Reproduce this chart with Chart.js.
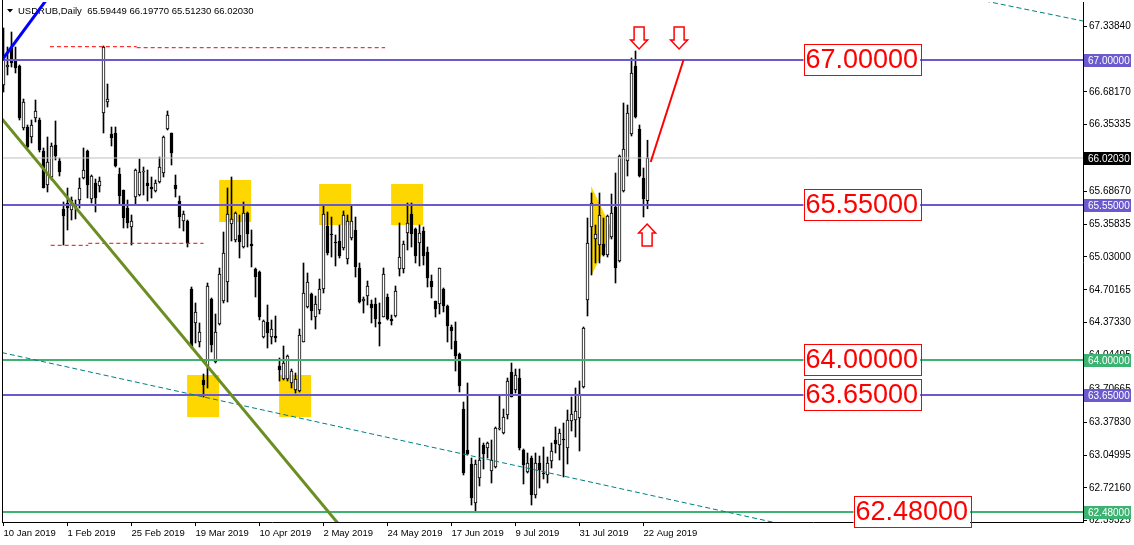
<!DOCTYPE html>
<html>
<head>
<meta charset="utf-8">
<script src="https://cdn.jsdelivr.net/npm/chart.js@4.4.1/dist/chart.umd.min.js"></script>
<style>
  html, body { margin: 0; padding: 0; background: #fff; }
  #wrap { width: 1134px; height: 545px; }
</style>
</head>
<body>
<div id="wrap"><canvas id="chart" width="1134" height="545"></canvas></div>
<script>
// daily bars, USDRUB, 10 Jan 2019 .. 23 Aug 2019 (one bar per weekday)
const open = [66.75,66.93,67.12,66.99,66.94,66.32,66.33,66.23,66.42,66.40,66.09,65.75,65.83,66.15,65.99,65.51,65.57,65.50,65.53,65.60,65.82,66.09,65.61,65.77,65.74,66.47,66.58,66.26,66.27,65.86,65.70,65.52,
  65.33,65.63,65.65,65.88,65.77,65.73,65.69,65.78,65.87,66.31,66.27,65.75,65.59,65.39,65.39,64.71,64.37,64.18,63.80,63.94,64.61,63.98,64.36,64.59,64.78,65.36,65.20,65.25,65.13,65.47,65.16,64.91,
  64.88,64.23,64.38,64.23,64.24,63.94,63.81,63.81,63.77,63.70,63.69,64.18,64.53,64.66,64.43,64.50,64.71,65.34,65.26,65.18,65.19,65.12,65.01,65.22,65.30,64.92,64.59,64.64,64.56,64.56,64.38,64.43,
  64.63,64.41,64.44,64.91,64.91,65.27,65.46,65.31,65.17,65.29,65.08,64.79,64.59,64.56,64.71,64.54,64.33,64.19,64.06,63.51,63.10,62.96,62.57,62.82,63.15,63.12,62.89,62.93,63.31,63.27,63.45,63.88,
  63.70,63.82,63.10,62.88,63.02,62.65,62.97,62.87,62.85,62.99,63.20,63.15,63.21,63.12,63.39,63.40,63.42,63.73,64.60,65.33,65.21,65.15,65.16,65.05,65.23,65.53,64.99,65.69,65.99,66.26,66.94,66.31,
  65.82,65.59449];
const high = [67.32,67.13,67.28,67.13,66.95,66.61,66.35,66.40,66.60,66.42,66.12,66.23,66.17,66.39,66.02,65.58,65.72,65.63,65.60,65.82,66.12,66.10,65.85,65.81,65.83,67.14,66.76,66.33,66.33,65.92,65.70,65.60,
  65.45,65.91,66.01,65.93,65.90,65.83,65.80,66.03,66.24,66.49,66.27,65.85,65.64,65.49,65.40,64.73,64.57,64.37,63.86,64.77,64.62,64.46,64.92,65.28,65.72,65.83,65.48,65.45,65.58,65.48,65.30,64.92,
  64.89,64.40,64.55,64.40,64.44,64.02,64.14,64.05,63.91,63.87,64.31,64.97,64.87,64.67,64.64,64.81,65.55,65.48,65.43,65.25,65.35,65.49,65.45,65.55,65.43,64.97,64.63,64.79,64.60,64.62,64.57,64.92,
  64.66,64.45,64.74,65.37,65.19,65.57,65.57,65.32,65.35,65.33,65.13,64.85,64.59,64.92,64.72,64.55,64.35,64.38,64.07,63.58,63.77,63.02,63.00,63.22,63.17,63.18,63.20,63.33,63.65,63.51,63.82,63.97,
  63.91,63.91,63.11,63.07,63.04,63.07,63.04,63.13,63.03,63.17,63.33,63.31,63.37,63.50,63.63,63.72,63.79,64.33,65.42,65.67,65.35,65.67,65.42,65.45,65.66,65.87,66.05,66.57,66.55,67.02,67.09,66.35,
  65.92,66.1977];
const low = [66.68,66.85,66.93,66.87,66.40,66.30,66.12,66.17,66.38,66.08,65.72,65.68,65.80,66.00,65.84,65.15,65.30,65.40,65.41,65.52,65.81,65.62,65.57,65.48,65.68,66.27,66.53,66.14,65.93,65.55,65.32,65.32,
  65.15,65.55,65.64,65.65,65.59,65.62,65.68,65.77,65.83,66.30,65.95,65.63,65.32,65.29,65.13,64.12,64.17,64.13,63.63,63.72,64.08,63.97,64.35,64.57,64.58,65.19,65.18,65.02,65.12,65.13,64.93,64.63,
  64.40,64.22,64.12,64.16,64.18,63.79,63.80,63.79,63.72,63.67,63.68,64.18,64.52,64.40,64.31,64.46,64.67,65.05,65.03,64.94,65.02,65.10,64.96,65.20,64.83,64.57,64.47,64.55,64.37,64.33,64.14,64.43,
  64.40,64.35,64.43,64.84,64.87,65.10,65.13,64.97,64.94,64.95,64.73,64.62,64.43,64.46,64.48,64.18,64.11,63.89,63.68,62.85,63.05,62.55,62.48,62.74,62.91,63.02,62.77,62.92,63.30,63.26,63.41,63.63,
  63.67,63.10,62.76,62.87,62.55,62.62,62.72,62.81,62.77,62.92,63.07,63.00,62.83,62.96,63.29,63.23,63.09,63.72,64.44,64.85,64.97,64.97,65.04,65.03,65.21,64.77,64.98,65.68,65.84,66.24,66.42,65.83,
  65.43,65.5123];
const close = [67.00,66.95,66.97,66.92,66.42,66.58,66.13,66.35,66.49,66.10,65.72,65.98,66.14,66.04,65.88,65.44,65.52,65.60,65.55,65.72,65.90,65.75,65.84,65.62,65.79,67.13,66.61,66.22,65.94,65.64,65.42,65.37,
  65.39,65.90,65.88,65.89,65.74,65.71,65.77,65.93,66.23,66.45,66.07,65.71,65.43,65.46,65.17,64.13,64.48,64.28,63.75,64.74,64.15,64.28,64.86,65.07,65.46,65.41,65.47,65.18,65.47,65.26,65.14,64.83,
  64.43,64.39,64.27,64.31,64.22,63.90,63.97,64.04,63.89,63.81,64.25,64.67,64.78,64.49,64.56,64.71,65.46,65.07,65.25,65.17,65.04,65.45,65.39,65.39,64.93,64.58,64.61,64.74,64.52,64.41,64.36,64.86,
  64.41,64.39,64.69,65.03,65.16,65.37,65.26,65.04,65.27,65.04,64.82,64.73,64.51,64.92,64.54,64.34,64.29,64.04,63.74,62.87,63.06,62.62,62.96,63.00,63.06,63.17,63.00,63.32,63.32,63.43,63.79,63.63,
  63.85,63.12,62.95,62.97,62.65,62.97,62.90,62.86,62.97,63.09,63.16,63.27,63.20,63.40,63.46,63.49,63.66,64.32,65.17,65.57,65.26,65.45,65.05,65.44,65.47,64.92,66.04,66.11,66.47,66.87,66.43,65.84,
  65.61,66.0203];

const dateLabels = ['10 Jan 2019','1 Feb 2019','25 Feb 2019','19 Mar 2019','10 Apr 2019','2 May 2019',
  '24 May 2019','17 Jun 2019','9 Jul 2019','31 Jul 2019','22 Aug 2019'];
const dateTickEvery = 16;
const priceTicks = [67.3384, 66.6817, 66.35335, 65.6867, 65.35835, 65.03, 64.70165, 64.3733,
  64.04495, 63.70665, 63.3783, 63.04995, 62.7216, 62.39325];

// horizontal levels
const levelPrices = [67.0, 65.55, 64.0, 63.65, 62.48];
const levelKinds = ['purple', 'purple', 'green', 'purple', 'green'];
// big red captions: [text, bar index of left edge, price]
const captions = [['67.00000', 200, 67.0], ['65.55000', 200, 65.55], ['64.00000', 200, 64.0],
  ['63.65000', 200, 63.65], ['62.48000', 212.5, 62.48]];

// drawing objects in (bar index, price)
const yellowBoxes = [[53.9, 61.9, 65.80, 65.38], [78.9, 86.9, 65.76, 65.35], [96.9, 104.9, 65.76, 65.35],
  [45.9, 53.9, 63.85, 63.43], [68.9, 76.9, 63.85, 63.43]];
const yellowTriangle = [[146.9, 65.74], [146.9, 64.84], [152.4, 65.28]];
const redRays = [[11.6, 33.3, 67.133], [33.3, 95.4, 67.123], [11.8, 21.2, 65.147], [21.2, 50.0, 65.167]];
const oliveTrend = [[-0.375, 66.41], [87.5, 62.18]];
const blueTrend = [[-0.375, 67.0], [10.7, 67.6]];
const tealLow = [[-0.375, 64.074], [224.1, 62.099]];
const tealHigh = [[245.4, 67.59], [269.875, 67.39]];
const targetLine = [[161.8, 65.98], [170, 67.0]];
const downArrows = [[158.9, 67.33], [168.9, 67.33]];
const upArrows = [[160.9, 65.36]];

const X_MIN = -0.375, X_MAX = 269.875;
const PURPLE = '#6a5acd', GREEN = '#3cb371';
const colorOf = k => k === 'green' ? GREEN : PURPLE;

const idx = open.map((_, i) => i);
const pts = arr => arr.map(p => ({x: p[0], y: p[1]}));
const lineDs = (data, color, width, dash, order) => ({
  type: 'line', data, borderColor: color, borderWidth: width, borderDash: dash || [],
  pointRadius: 0, fill: false, tension: 0, order: order
});

const datasets = [
  {
    type: 'bar', data: idx.map(i => ({x: i, y: [low[i], high[i]]})),
    backgroundColor: '#000', borderWidth: 0, barThickness: 1, grouped: false, order: 5
  },
  {
    type: 'bar', data: idx.map(i => ({x: i, y: [open[i], close[i]]})),
    backgroundColor: idx.map(i => close[i] >= open[i] ? '#fff' : '#000'),
    borderColor: '#000', borderWidth: 1, borderSkipped: false, barThickness: 3,
    minBarLength: 1, grouped: false, order: 4
  },
  lineDs([{x: X_MIN, y: close[close.length - 1]}, {x: X_MAX, y: close[close.length - 1]}], '#c0c0c0', 1, null, 3)
];
levelPrices.forEach((p, i) => datasets.push(lineDs([{x: X_MIN, y: p}, {x: X_MAX, y: p}], colorOf(levelKinds[i]), 2, null, 2)));
redRays.forEach(r => datasets.push(lineDs([{x: r[0], y: r[2]}, {x: r[1], y: r[2]}], '#ff0000', 1, [4, 3], 2)));
datasets.push(lineDs(pts(oliveTrend), '#6b8e23', 3, null, 1));
datasets.push(lineDs(pts(blueTrend), '#0000ff', 3, null, 1));
datasets.push(lineDs(pts(tealLow), '#008080', 1, [5, 3], 1));
datasets.push(lineDs(pts(tealHigh), '#008080', 1, [5, 3], 1));
datasets.push(lineDs(pts(targetLine), '#ff0000', 2, null, 1));

const FONT = "'Liberation Sans', Arial, sans-serif";

function arrowPath(ctx, cx, top, down) {
  const sw = 5, hw = 8.5, sh = 13, h = 22;
  ctx.beginPath();
  if (down) {
    ctx.moveTo(cx - sw, top); ctx.lineTo(cx + sw, top); ctx.lineTo(cx + sw, top + sh);
    ctx.lineTo(cx + hw, top + sh); ctx.lineTo(cx, top + h); ctx.lineTo(cx - hw, top + sh);
    ctx.lineTo(cx - sw, top + sh);
  } else {
    ctx.moveTo(cx, top); ctx.lineTo(cx + hw, top + h - sh); ctx.lineTo(cx + sw, top + h - sh);
    ctx.lineTo(cx + sw, top + h); ctx.lineTo(cx - sw, top + h); ctx.lineTo(cx - sw, top + h - sh);
    ctx.lineTo(cx - hw, top + h - sh);
  }
  ctx.closePath();
  ctx.fillStyle = '#fff';
  ctx.fill();
  ctx.strokeStyle = '#ff0000';
  ctx.lineWidth = 1.5;
  ctx.stroke();
}

const overlay = {
  id: 'overlay',
  beforeDatasetsDraw(chart) {
    const {ctx, chartArea: a, scales: {x, y}} = chart;
    ctx.save();
    ctx.beginPath();
    ctx.rect(a.left, a.top, a.right - a.left, a.bottom - a.top);
    ctx.clip();
    ctx.fillStyle = '#ffd700';
    yellowBoxes.forEach(b => {
      const x0 = x.getPixelForValue(b[0]), x1 = x.getPixelForValue(b[1]);
      const y0 = y.getPixelForValue(b[2]), y1 = y.getPixelForValue(b[3]);
      ctx.fillRect(x0, y0, x1 - x0, y1 - y0);
    });
    ctx.beginPath();
    yellowTriangle.forEach((p, i) => {
      const px = x.getPixelForValue(p[0]), py = y.getPixelForValue(p[1]);
      if (i === 0) ctx.moveTo(px, py); else ctx.lineTo(px, py);
    });
    ctx.closePath();
    ctx.fill();
    // symbol caption
    ctx.fillStyle = '#000';
    ctx.beginPath();
    ctx.moveTo(7, 9); ctx.lineTo(13, 9); ctx.lineTo(10, 12.5); ctx.closePath();
    ctx.fill();
    ctx.font = '9.5px ' + FONT;
    ctx.textBaseline = 'alphabetic';
    ctx.textAlign = 'left';
    ctx.fillText('USDRUB,Daily  65.59449 66.19770 65.51230 66.02030', 18, 14);
    ctx.restore();
  },
  afterDraw(chart) {
    const {ctx, chartArea: a, scales: {x, y}} = chart;
    ctx.save();
    // left frame line
    ctx.strokeStyle = '#000';
    ctx.lineWidth = 1;
    ctx.beginPath();
    ctx.moveTo(a.left + 0.5, 0); ctx.lineTo(a.left + 0.5, a.bottom);
    ctx.stroke();

    downArrows.forEach(p => arrowPath(ctx, x.getPixelForValue(p[0]), y.getPixelForValue(p[1]), true));
    upArrows.forEach(p => arrowPath(ctx, x.getPixelForValue(p[0]), y.getPixelForValue(p[1]), false));

    // big red captions
    ctx.font = '27px ' + FONT;
    ctx.textBaseline = 'middle';
    ctx.textAlign = 'left';
    captions.forEach(c => {
      const px = x.getPixelForValue(c[1]), py = y.getPixelForValue(c[2]);
      const w = ctx.measureText(c[0]).width;
      ctx.fillStyle = '#fff';
      ctx.fillRect(px, py - 15, w + 4, 31);
      ctx.strokeStyle = '#ff0000';
      ctx.lineWidth = 1;
      ctx.strokeRect(Math.round(px) + 0.5, Math.round(py) - 15.5, Math.round(w) + 4, 31);
      ctx.fillStyle = '#ff0000';
      ctx.fillText(c[0], px + 2, py + 1);
    });

    // price tags on the axis
    ctx.font = '10px ' + FONT;
    const tags = levelPrices.map((p, i) => [p, colorOf(levelKinds[i])]);
    tags.push([close[close.length - 1], '#000']);
    tags.forEach(t => {
      const py = Math.round(y.getPixelForValue(t[0]));
      ctx.fillStyle = t[1];
      ctx.fillRect(a.right + 1, py - 6, 47, 13);
      ctx.fillStyle = '#fff';
      ctx.fillText(t[0].toFixed(5), a.right + 5, py + 1);
    });
    ctx.restore();
  }
};

new Chart(document.getElementById('chart'), {
  type: 'bar',
  data: {datasets},
  options: {
    responsive: false,
    animation: false,
    events: [],
    layout: {padding: {top: 2, left: 2, right: 0, bottom: 0}},
    plugins: {legend: {display: false}, tooltip: {enabled: false}},
    scales: {
      x: {
        type: 'linear', min: X_MIN, max: X_MAX, offset: false,
        grid: {display: true, drawOnChartArea: false, drawTicks: true, tickLength: 4, color: '#000', offset: false},
        border: {display: true, color: '#000'},
        ticks: {
          autoSkip: false, maxRotation: 0, align: 'start', padding: 2, color: '#000',
          font: {family: FONT, size: 9.5},
          callback: v => dateLabels[Math.round(v / dateTickEvery)]
        },
        afterBuildTicks: s => { s.ticks = dateLabels.map((_, i) => ({value: i * dateTickEvery})); },
        afterFit: s => { s.height = 23; s.paddingLeft = 0; s.paddingRight = 0; }
      },
      y: {
        type: 'linear', position: 'right', min: 62.38, max: 67.58,
        grid: {display: true, drawOnChartArea: false, drawTicks: true, tickLength: 4, color: '#000'},
        border: {display: true, color: '#000'},
        ticks: {
          autoSkip: false, padding: 2, color: '#000', font: {family: FONT, size: 10},
          callback: v => v.toFixed(5)
        },
        afterBuildTicks: s => { s.ticks = priceTicks.map(v => ({value: v})); },
        afterFit: s => { s.width = 51; s.paddingTop = 0; s.paddingBottom = 0; }
      }
    }
  },
  plugins: [overlay]
});
</script>
</body>
</html>
